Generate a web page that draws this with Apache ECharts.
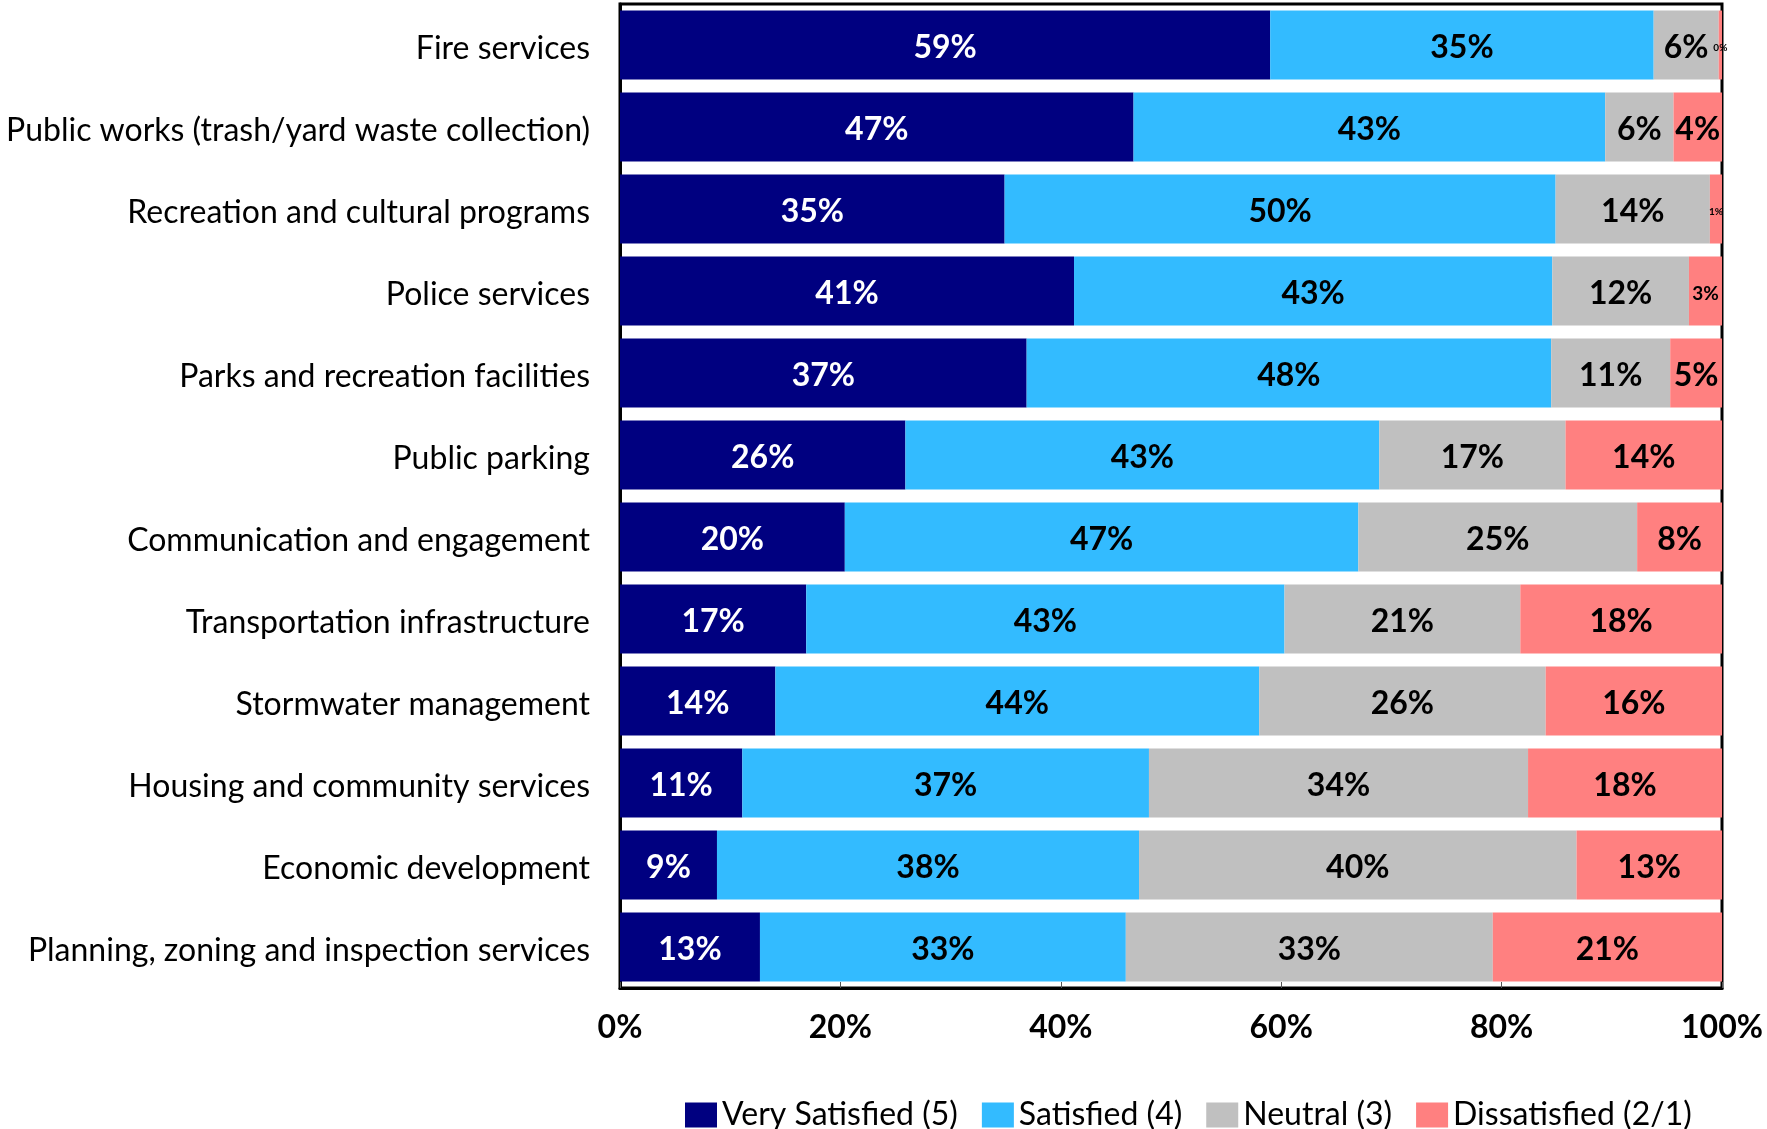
<!DOCTYPE html>
<html>
<head>
<meta charset="utf-8">
<script src="https://cdn.jsdelivr.net/npm/echarts@6/dist/echarts.min.js"></script>
<style>
html,body{margin:0;padding:0;background:#fff;}
#chart{width:1767px;height:1129px;}
</style>
</head>
<body>
<div id="chart"></div>
<script>
const categories = [
  "Fire services",
  "Public works (trash/yard waste collection)",
  "Recreation and cultural programs",
  "Police services",
  "Parks and recreation facilities",
  "Public parking",
  "Communication and engagement",
  "Transportation infrastructure",
  "Stormwater management",
  "Housing and community services",
  "Economic development",
  "Planning, zoning and inspection services"
];
const seriesNames = ["Very Satisfied (5)", "Satisfied (4)", "Neutral (3)", "Dissatisfied (2/1)"];
const verySatisfied = [59.0, 46.6, 34.9, 41.2, 36.9, 25.9, 20.4, 16.9, 14.1, 11.1, 8.8, 12.7];
const satisfied     = [34.8, 42.8, 50.0, 43.4, 47.6, 43.0, 46.6, 43.4, 43.9, 36.9, 38.3, 33.2];
const neutral       = [5.9, 6.2, 14.0, 12.4, 10.8, 16.9, 25.3, 21.4, 26.0, 34.4, 39.7, 33.3];
const dissatisfied  = [0.3, 4.4, 1.1, 3.0, 4.7, 14.2, 7.7, 18.3, 16.0, 17.6, 13.2, 20.8];
const xTicks = [0, 20, 40, 60, 80, 100];

const colors = ["#000080", "#33BBFF", "#C0C0C0", "#FF8080"];
const labelColors = ["#ffffff", "#000000", "#000000", "#000000"];
const FONT = "Lato";

function sizeFor(v) {
  if (v < 2) return 10;
  if (v < 3.5) return 19;
  return 32;
}

function makeData(arr) {
  return arr.map(v => ({ value: v, label: { fontSize: sizeFor(v) } }));
}

const allData = [verySatisfied, satisfied, neutral, dissatisfied];

const chart = echarts.init(document.getElementById('chart'), null, {renderer: 'canvas'});
chart.setOption({
  animation: false,
  backgroundColor: '#ffffff',
  grid: {
    left: 620, right: 45, top: 4, bottom: 141,
    show: true, borderColor: '#000', borderWidth: 3, backgroundColor: 'transparent'
  },
  legend: {
    bottom: -2,
    left: 685,
    padding: 0,
    itemWidth: 32,
    itemHeight: 25,
    itemGap: 24,
    icon: 'rect',
    textStyle: { fontFamily: FONT, fontSize: 32, color: '#000', padding: [4, 0, 0, 0] },
    data: seriesNames
  },
  xAxis: {
    type: 'value',
    min: xTicks[0], max: xTicks[xTicks.length - 1], interval: 20,
    axisLine: { show: true, lineStyle: { color: '#000', width: 3 } },
    axisTick: { show: true, inside: true, length: 6, lineStyle: { color: '#555', width: 1 } },
    splitLine: { show: false },
    axisLabel: {
      formatter: v => v + '%',
      fontFamily: FONT, fontWeight: 'bold', fontSize: 32, color: '#000', margin: 24
    }
  },
  yAxis: {
    type: 'category',
    inverse: true,
    data: categories,
    axisLine: { show: true, lineStyle: { color: '#000', width: 3 } },
    axisTick: { show: false },
    axisLabel: {
      fontFamily: FONT, fontSize: 32, color: '#000', margin: 30,
      formatter: v => '{c|' + v + '}',
      rich: { c: { fontFamily: FONT, fontSize: 32, color: '#000', padding: [7, 0, 0, 0] } }
    }
  },
  series: seriesNames.map((name, i) => ({
    name: name,
    type: 'bar',
    stack: 'total',
    barCategoryGap: '16%',
    itemStyle: { color: colors[i] },
    label: {
      show: true,
      position: 'inside',
      offset: [0, 3],
      formatter: p => Math.round(p.value) + '%',
      fontFamily: FONT, fontWeight: 'bold', fontSize: 32, color: labelColors[i]
    },
    data: makeData(allData[i])
  }))
});
</script>
</body>
</html>
